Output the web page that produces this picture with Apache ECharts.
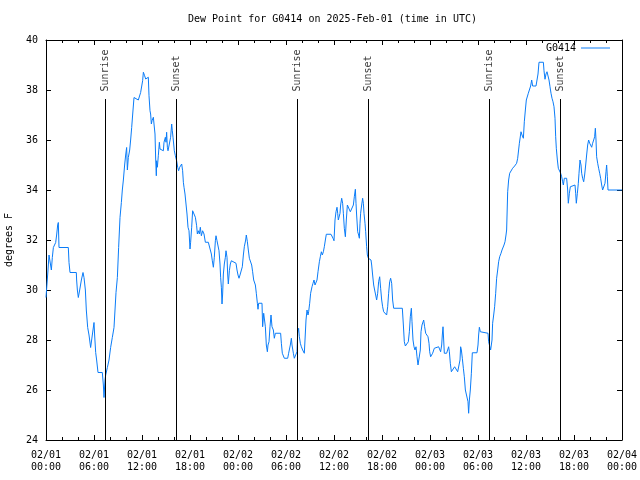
<!DOCTYPE html>
<html><head><meta charset="utf-8">
<script src="https://cdn.jsdelivr.net/npm/echarts@6/dist/echarts.min.js"></script>
<style>html,body{margin:0;padding:0;background:#fff}#c{width:640px;height:480px}</style>
</head><body><div id="c"></div>
<script>
const titleText = 'Dew Point for G0414 on 2025-Feb-01 (time in UTC)';
const seriesName = 'G0414';
const yAxisTitle = 'degrees F';
const dayLabels = ['02/01', '02/02', '02/03', '02/04'];
const eventHours = [7.375, 16.25, 31.375, 40.25, 55.375, 64.25];
const eventLabels = ['Sunrise', 'Sunset', 'Sunrise', 'Sunset', 'Sunrise', 'Sunset'];
const eventLineTop = 37.64;
const eventLabelBase = 37.9;
// [hours since 2025-02-01 00:00 UTC, dew point °F]
const dewPoint = [
[0.0,29.7],[0.25,30.8],[0.375,31.4],[0.58,31.4],[0.67,30.8],[0.79,31.3],[0.92,31.7],[1.21,31.9],[1.33,32.2],[1.46,32.6],[1.54,32.7],[1.625,31.7],[2.79,31.7],[2.875,31.1],[3.0,30.7],[3.79,30.7],[3.83,30.4],[3.92,30.0],[4.04,29.7],[4.21,30.0],[4.42,30.4],[4.625,30.7],[4.75,30.5],[4.92,30.0],[5.04,29.2],[5.21,28.5],[5.375,28.2],[5.58,27.7],[5.79,28.2],[6.0,28.7],[6.08,28.2],[6.21,27.5],[6.33,27.2],[6.5,26.7],[7.04,26.7],[7.17,26.2],[7.25,25.7],[7.375,26.4],[7.46,26.6],[7.67,26.9],[7.875,27.2],[8.08,27.7],[8.29,28.1],[8.5,28.5],[8.625,29.2],[8.75,29.9],[8.92,30.5],[9.08,31.7],[9.25,32.9],[9.42,33.5],[9.54,34.0],[9.67,34.4],[9.83,35.0],[9.96,35.4],[10.08,35.7],[10.17,34.8],[10.29,35.3],[10.46,35.6],[10.58,36.0],[10.71,36.5],[10.83,37.0],[11.0,37.7],[11.25,37.7],[11.54,37.6],[11.83,37.9],
[12.08,38.37],[12.17,38.71],[12.33,38.57],[12.46,38.44],[12.58,38.37],[12.67,38.48],[12.79,38.51],[12.875,37.77],[13.0,37.17],[13.08,37.04],[13.17,36.64],[13.25,36.77],[13.33,36.84],[13.42,36.91],[13.5,36.64],[13.625,36.24],[13.71,35.24],[13.79,34.57],[13.83,35.17],[13.92,34.91],[14.04,35.37],[14.17,35.91],[14.25,35.64],[14.375,35.57],[14.67,35.57],[14.75,35.91],[14.92,36.11],[15.0,35.91],[15.08,36.31],[15.17,35.71],[15.25,35.57],[15.5,35.57],[15.58,36.11],[15.71,36.64],[15.79,36.37],[15.875,36.11],[15.96,35.84],[16.04,35.57],[16.17,35.37],[16.33,35.17],[16.46,34.91],[16.58,34.77],[16.71,34.91],[16.83,34.91],[16.96,35.04],[17.08,34.77],[17.17,34.31],[17.25,34.11],[17.375,33.84],[17.5,33.44],[17.625,33.04],[17.75,32.51],[17.875,32.37],[18.0,31.64],[18.08,31.91],[18.21,32.51],[18.33,33.17],[18.54,33.17],[18.67,32.91],[18.83,32.57],[18.92,32.24],[19.04,32.37],[19.17,32.24],[19.29,32.51],[19.42,32.17],[19.58,32.37],[19.75,32.24],[19.92,31.91],[20.29,31.91],[20.5,31.84],[20.67,31.44],[20.79,31.17],[20.92,30.91],[21.04,31.31],[21.17,31.97],[21.25,32.17],[21.375,31.97],[21.5,31.91],[21.625,31.57],[21.75,31.04],[21.83,30.51],[21.92,30.11],[22.0,29.44],[22.08,29.84],[22.17,30.64],[22.29,31.04],[22.42,31.31],[22.5,31.57],[22.625,31.31],[22.71,30.64],[22.79,30.24],[22.92,30.77],[23.04,31.04],[23.17,31.17],[23.42,31.17],
[23.75,31.07],[23.875,30.8],[24.0,30.6],[24.125,30.47],[24.25,30.6],[24.42,30.67],[24.54,30.93],[24.67,31.4],[24.79,31.73],[24.96,32.0],[25.04,32.2],[25.17,31.93],[25.29,31.6],[25.42,31.27],[25.58,31.2],[25.71,31.0],[25.83,30.73],[25.96,30.4],[26.08,30.47],[26.17,30.2],[26.29,29.87],[26.42,29.47],[26.5,29.23],[26.58,29.47],[27.0,29.47],[27.08,28.53],[27.21,29.07],[27.33,29.07],[27.42,28.53],[27.54,27.8],[27.67,27.53],[27.75,27.8],[27.875,27.93],[28.0,28.53],[28.125,29.0],[28.25,28.53],[28.42,28.4],[28.54,28.07],[28.67,28.27],[29.33,28.27],[29.42,27.87],[29.54,27.47],[29.79,27.27],[30.21,27.27],[30.33,27.47],[30.54,27.8],[30.67,28.07],[30.75,27.8],[30.92,27.47],[31.04,27.27],[31.25,27.27],[31.375,27.53],[31.46,28.27],[31.58,28.47],[31.67,28.13],[31.79,27.87],[31.92,27.73],[32.08,27.6],[32.29,27.47],[32.375,28.0],[32.5,28.8],[32.625,29.2],[32.75,29.0],[32.83,29.13],[32.96,29.47],[33.08,29.87],[33.25,30.13],[33.375,30.27],[33.5,30.4],[33.625,30.2],[33.75,30.27],[33.875,30.4],[34.0,30.73],[34.17,31.13],[34.29,31.33],[34.42,31.53],[34.54,31.4],[34.67,31.53],[34.79,31.73],[34.92,32.0],[35.04,32.23],[35.625,32.23],
[35.71,32.2],[35.875,32.07],[36.0,31.97],[36.125,32.8],[36.25,33.13],[36.375,33.31],[36.46,33.07],[36.54,32.8],[36.625,32.73],[36.75,33.07],[36.83,33.4],[36.96,33.67],[37.08,33.47],[37.17,33.07],[37.29,32.47],[37.42,32.13],[37.54,32.8],[37.67,33.4],[37.92,33.36],[38.04,33.13],[38.17,33.07],[38.29,33.07],[38.42,33.4],[38.54,33.73],[38.67,34.03],[38.75,33.47],[38.83,33.0],[38.96,32.33],[39.08,32.2],[39.17,32.07],[39.25,32.67],[39.33,33.07],[39.46,33.4],[39.58,33.67],[39.67,33.47],[39.75,33.07],[39.875,32.67],[39.96,32.33],[40.08,31.73],[40.17,31.4],[40.29,31.27],[40.46,31.23],[40.625,31.2],[40.71,31.0],[40.83,30.6],[40.96,30.2],[41.08,30.0],[41.21,29.8],[41.33,29.6],[41.46,29.87],[41.58,30.33],[41.71,30.53],[41.83,30.07],[41.96,29.6],[42.08,29.33],[42.21,29.13],[42.33,29.13],[42.46,29.07],[42.58,29.0],[42.71,29.33],[42.83,29.87],[42.96,30.33],[43.08,30.47],[43.21,30.27],[43.33,29.6],[43.46,29.27],[44.54,29.27],[44.67,28.6],[44.79,27.93],[44.92,27.76],[45.17,27.76],[45.29,27.93],[45.42,28.33],[45.54,28.93],[45.67,29.27],[45.75,28.73],[45.875,28.0],[46.0,27.73],[46.125,27.6],[46.25,27.73],[46.375,27.33],[46.5,27.0],[46.71,27.0],[46.79,27.6],[46.875,28.33],[47.0,28.6],[47.125,28.67],[47.21,28.8],[47.33,28.53],[47.46,28.27],[47.625,28.27],[47.75,28.13],[47.875,27.87],
[47.96,27.53],[48.08,27.33],[48.21,27.27],[48.33,27.47],[48.54,27.67],[48.67,27.73],[49.08,27.73],[49.21,27.67],[49.33,27.53],[49.46,27.8],[49.54,28.2],[49.625,28.53],[49.71,28.0],[49.79,27.47],[50.08,27.47],[50.21,27.53],[50.33,27.73],[50.42,27.53],[50.54,27.07],[50.67,26.73],[50.92,26.73],[51.08,26.93],[51.21,27.0],[51.33,26.87],[51.46,26.73],[51.67,26.73],[51.75,27.2],[51.83,27.73],[51.92,27.6],[52.04,27.27],[52.17,26.87],[52.29,26.53],[52.42,26.0],[52.67,25.97],[52.75,25.53],[52.83,25.07],[52.92,25.6],[53.04,26.0],[53.17,26.67],[53.29,27.49],[53.875,27.49],[54.0,27.8],[54.08,28.2],[54.17,28.51],[54.29,28.33],[54.42,28.27],[55.25,28.27],[55.33,27.93],[55.46,27.87],[55.58,27.6],[55.67,27.53],[55.75,28.0],[55.83,28.67],[55.96,29.0],[56.08,29.33],[56.21,29.87],[56.33,30.47],[56.46,30.8],[56.58,31.13],[56.71,31.33],[56.875,31.47],[57.0,31.6],[57.125,31.67],[57.25,31.8],[57.375,31.93],[57.5,32.2],[57.58,32.4],
[57.71,33.93],[57.83,34.4],[57.96,34.67],[58.08,34.73],[58.33,34.87],[58.58,34.96],[58.83,35.07],[58.96,35.27],[59.08,35.33],[59.17,35.87],
[59.25,35.87],[59.375,36.33],[59.5,36.2],[59.67,36.07],[59.79,36.73],[59.92,37.2],[60.04,37.6],[60.17,37.67],[60.29,37.87],[60.46,37.93],[60.58,38.16],[60.71,38.4],[60.83,38.16],[61.25,38.16],[61.375,38.4],[61.5,38.64],[61.625,39.11],[62.17,39.11],[62.25,38.77],[62.375,38.43],[62.5,38.64],[62.625,38.73],[62.75,38.67],[62.875,38.4],[63.0,38.13],[63.125,37.87],[63.25,37.67],[63.375,37.53],[63.5,37.33],[63.625,36.87],[63.71,36.13],[63.79,35.67],[63.92,35.2],[64.04,34.87],[64.17,34.8],[64.33,34.67],[64.46,34.53],[64.58,34.33],[64.67,34.2],[64.79,34.47],[65.08,34.47],[65.21,34.0],[65.29,33.47],[65.42,33.87],[65.54,34.13],[65.625,34.2],[66.125,34.2],[66.21,33.87],[66.29,33.47],[66.42,33.87],[66.54,34.27],[66.625,34.67],[66.75,35.2],[66.875,35.0],[66.96,34.67],[67.08,34.47],[67.21,34.33],[67.33,34.6],[67.46,35.0],[67.58,35.4],[67.71,35.8],[67.83,36.0],[67.96,35.87],[68.08,35.8],[68.21,35.71],[68.33,35.87],[68.46,36.0],[68.58,36.13],[68.67,36.47],[68.75,36.0],[68.83,35.33],[68.96,35.07],[69.08,34.87],[69.21,34.67],[69.33,34.47],[69.46,34.2],[69.58,34.0],[69.75,34.0],[69.875,34.27],[70.0,34.73],[70.08,35.0],[70.17,34.53],[70.25,34.0],[72.0,34.0]
];

const FONT = 'DejaVu Sans Mono';
const lineColor = '#0a7cf8';
const black = '#000';

function timeLabel(h) {
  const day = Math.floor(h / 24);
  const hh = h - day * 24;
  return dayLabels[day] + '\n' + (hh < 10 ? '0' : '') + hh + ':00';
}

const chart = echarts.init(document.getElementById('c'), null, {renderer: 'canvas'});
const baseX = {
  type: 'value', min: 0, max: 72, interval: 6,
  axisLine: {show: true, onZero: false, lineStyle: {color: black, width: 1}},
  axisTick: {show: true, inside: true, length: 5, lineStyle: {color: black}},
  minorTick: {show: true, splitNumber: 3, length: 3, lineStyle: {color: black}},
  splitLine: {show: false}, minorSplitLine: {show: false}
};
const baseY = {
  type: 'value', min: 24, max: 40, interval: 2,
  axisLine: {show: true, onZero: false, lineStyle: {color: black, width: 1}},
  axisTick: {show: true, inside: true, length: 5, lineStyle: {color: black}},
  splitLine: {show: false}
};
chart.setOption({
  animation: false,
  backgroundColor: '#fff',
  title: {
    text: titleText, left: 188, top: 14, padding: 0,
    textStyle: {fontFamily: FONT, fontSize: 10, fontWeight: 'normal', color: black}
  },
  legend: {
    data: [{name: seriesName, icon: 'rect'}], right: 30, top: 43, align: 'right', padding: 0,
    itemWidth: 29, itemHeight: 1, itemGap: 6,
    textStyle: {fontFamily: FONT, fontSize: 10, color: black}
  },
  grid: {left: 46, right: 18, top: 40, bottom: 40, containLabel: false, outerBoundsMode: 'none'},
  xAxis: [
    Object.assign({}, baseX, {position: 'bottom',
      axisLabel: {formatter: timeLabel, color: black, fontFamily: FONT, fontSize: 10, lineHeight: 12, margin: 9}}),
    Object.assign({}, baseX, {position: 'top', axisLabel: {show: false}})
  ],
  yAxis: [
    Object.assign({}, baseY, {position: 'left', name: yAxisTitle, nameLocation: 'middle', nameGap: 32, nameRotate: 90,
      nameTextStyle: {fontFamily: FONT, fontSize: 10, color: black},
      axisLabel: {color: black, fontFamily: FONT, fontSize: 10, margin: 8}}),
    Object.assign({}, baseY, {position: 'right', axisLabel: {show: false}})
  ],
  series: [
    {
      name: 'events', type: 'scatter', xAxisIndex: 0, yAxisIndex: 0,
      symbolSize: 0, silent: true,
      data: eventHours.map((h, i) => ({value: [h, eventLabelBase], name: eventLabels[i]})),
      label: {show: true, formatter: '{b}', rotate: 90, position: 'inside', align: 'left', verticalAlign: 'middle',
        offset: [1, 0], fontFamily: FONT, fontSize: 10, color: black},
      markLine: {
        silent: true, symbol: ['none', 'none'], label: {show: false},
        lineStyle: {color: black, width: 1, type: 'solid'},
        data: eventHours.map(h => [{coord: [h, 24]}, {coord: [h, eventLineTop]}])
      }
    },
    {
      name: seriesName, type: 'line', xAxisIndex: 0, yAxisIndex: 0,
      data: dewPoint, symbol: 'none', showSymbol: false,
      lineStyle: {color: lineColor, width: 1}, itemStyle: {color: lineColor}
    }
  ]
});
</script></body></html>
